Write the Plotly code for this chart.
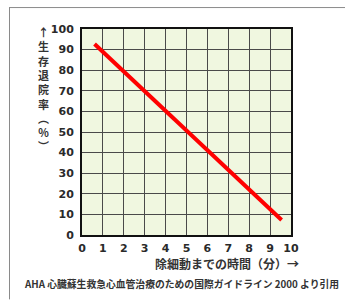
import plotly.graph_objects as go

# Data
minutes = [0.6, 9.55]
survival = [92.7, 7.3]
x_ticks = list(range(0, 11))
y_ticks = list(range(0, 101, 10))
y_title_chars = ["↑", "生", "存", "退", "院", "率", "︵", "%", "︶"]
x_title = "除細動までの時間（分）→"
footer = "AHA 心臓蘇生救急心血管治療のための国際ガイドライン 2000 より引用"

W, H = 345, 300
L, R, T, B = 82, 54, 29, 64.5
pw, ph = W - L - R, H - T - B

def px_x(x):
    return (x - L) / pw

def px_y(y):
    return (H - B - y) / ph

fig = go.Figure()
fig.add_trace(go.Scatter(
    x=minutes, y=survival, mode="lines",
    line=dict(color="#ff0000", width=4),
    hoverinfo="skip", showlegend=False,
))

tickfont = dict(family="DejaVu Sans", size=11, color="#2a2a2a", weight="bold")
axis_common = dict(
    showgrid=True, gridcolor="#4a4a4a", gridwidth=1,
    showline=True, linecolor="#111111", linewidth=2, mirror=True,
    zeroline=False, ticks="", tickfont=tickfont, fixedrange=True,
)
fig.update_xaxes(range=[0, 10], tickvals=x_ticks, ticklabelstandoff=2, **axis_common)
fig.update_yaxes(range=[0, 100], tickvals=y_ticks, ticklabelstandoff=4, **axis_common)

annotations = [dict(
    text="<b>" + "<br>".join(y_title_chars) + "</b>", x=px_x(43), y=px_y(22), xref="paper", yref="paper",
    showarrow=False, xanchor="center", yanchor="top", align="center",
    font=dict(family="Noto Sans CJK JP", size=11, color="#333333"),
)]
annotations.append(dict(
    text="<b>" + x_title + "</b>", x=px_x(227), y=px_y(264.5), xref="paper", yref="paper",
    showarrow=False, xanchor="center", yanchor="middle",
    font=dict(family="Noto Sans CJK JP", size=12, color="#333333"),
))
annotations.append(dict(
    text="<b>" + footer + "</b>", x=px_x(181.5), y=px_y(285), xref="paper", yref="paper",
    showarrow=False, xanchor="center", yanchor="middle",
    font=dict(family="Noto Sans CJK JP", size=9.8, color="#333333"),
))

shapes = [
    dict(type="line", xref="paper", yref="paper", x0=px_x(9), x1=px_x(345), y0=px_y(7.5), y1=px_y(7.5),
         line=dict(color="#8a8a8a", width=1)),
    dict(type="line", xref="paper", yref="paper", x0=px_x(9.5), x1=px_x(9.5), y0=px_y(7.5), y1=px_y(300),
         line=dict(color="#8a8a8a", width=1)),
]

fig.update_layout(
    width=W, height=H,
    margin=dict(l=L, r=R, t=T, b=B, autoexpand=False),
    paper_bgcolor="#ffffff", plot_bgcolor="#f0f7e0",
    annotations=annotations, shapes=shapes,
)
fig.write_html("out.html", config={"displayModeBar": False},
               post_script="document.body.style.margin='0';")
